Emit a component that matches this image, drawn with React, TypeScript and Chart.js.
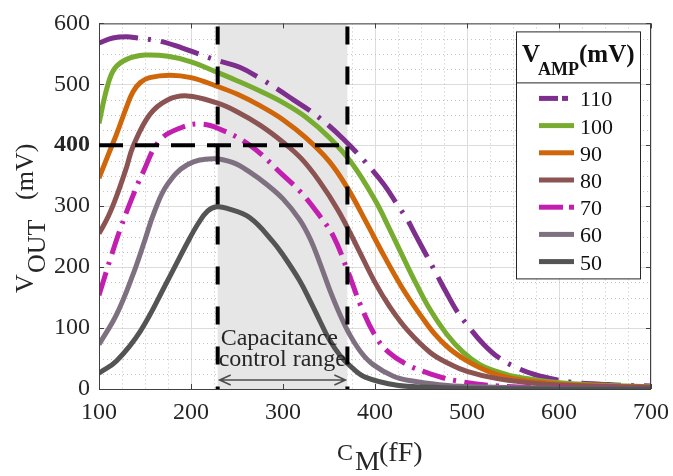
import React, { useEffect, useRef } from "react";
import { Chart, registerables } from "chart.js";
Chart.register(...registerables);

const FONT = "'Liberation Serif', 'Times New Roman', serif";
const INK = "#262626";

// ---- data ----
const seriesLabels = ["110", "100", "90", "80", "70", "60", "50"];
const seriesColors = ["#7E2F8E", "#77AC30", "#D0660A", "#8C5353", "#C21EB0", "#7E7080", "#545454"];

const x110 = [100, 115, 130, 142, 166, 190, 210, 229, 253, 275, 293, 311, 329, 350, 365, 380, 395, 410, 424, 435, 445, 455, 467, 478, 489, 503, 517, 534, 554, 575, 598, 621, 645, 670, 700];
const y110 = [568, 576, 578, 576, 571, 560, 549, 539, 528, 510, 493, 475, 457, 432, 411, 388, 363, 335, 303, 278, 250, 222, 188, 157, 128, 100, 75, 52, 35, 23, 15, 10, 8, 6, 5];

const x100 = [100, 109, 117, 130, 150, 175, 200, 228, 250, 275, 300, 325, 350, 375, 400, 416, 430, 445, 460, 478, 496, 514, 532, 550, 575, 604, 650, 700];
const y100 = [436, 496, 526, 541, 548, 546, 537, 520, 506, 489, 470, 446, 413, 370, 310, 262, 218, 172, 130, 90, 60, 40, 29, 21, 15, 10, 6, 4];

const x90 = [100, 111, 119, 130, 137, 145, 155, 177, 200, 228, 250, 275, 300, 325, 350, 370, 390, 410, 430, 450, 465, 481, 500, 514, 532, 550, 575, 604, 650, 700];
const y90 = [346, 388, 418, 463, 488, 503, 511, 515, 511, 497, 484, 465, 442, 412, 374, 330, 275, 218, 165, 120, 90, 66, 46, 35, 24, 17, 12, 8, 5, 3];

const x80 = [100, 110, 119, 130, 137, 155, 174, 196, 229, 250, 275, 300, 320, 340, 360, 380, 400, 416, 435, 460, 480, 500, 533, 570, 604, 650, 700];
const y80 = [255, 283, 316, 364, 398, 450, 474, 481, 469, 455, 433, 405, 378, 340, 293, 235, 175, 135, 97, 60, 42, 29, 17, 10, 6, 4, 3];

const x70 = [100, 112, 123, 135, 148, 166, 191, 210, 229, 264, 300, 320, 340, 355, 370, 385, 400, 415, 435, 460, 490, 533, 600, 700];
const y70 = [154, 212, 262, 310, 356, 408, 430, 435, 428, 400, 351, 322, 284, 250, 195, 135, 88, 60, 40, 25, 13, 5, 2, 1];

const x60 = [100, 119, 137, 150, 160, 174, 196, 224, 245, 264, 282, 300, 318, 330, 340, 351, 362, 373, 385, 398, 420, 441, 470, 500, 600, 700];
const y60 = [73, 122, 188, 245, 290, 335, 368, 378, 372, 356, 336, 312, 278, 245, 207, 162, 122, 88, 60, 40, 21, 13, 7, 4, 1, 0];

const x50 = [100, 119, 145, 174, 196, 208, 218, 228, 240, 264, 289, 300, 318, 330, 340, 350, 362, 375, 390, 424, 460, 500, 600, 700];
const y50 = [26, 46, 95, 176, 240, 272, 292, 299, 296, 281, 242, 220, 178, 143, 112, 82, 55, 35, 19, 6, 3, 1, 0, 0];

const seriesX = [x110, x100, x90, x80, x70, x60, x50];
const seriesY = [y110, y100, y90, y80, y70, y60, y50];
const seriesStyle = ["dashdot", "solid", "solid", "solid", "dashdot2", "solid", "solid"];

const xTicks = [100, 200, 300, 400, 500, 600, 700];
const yTicks = [0, 100, 200, 300, 400, 500, 600];
const minorStep = 25;

const rangeStart = 229; // fF
const rangeEnd = 370; // fF
const thresholdV = 400; // mV
const legendTitle = { main: "V", sub: "AMP", unit: "(mV)" };
const annotationLines = ["Capacitance", "control range"];

function dashFor(style: string): number[] {
  if (style === "dashdot") return [40, 10, 3, 10];
  if (style === "dashdot2") return [24, 8, 3, 8];
  return [];
}

const decorPlugin = {
  id: "decor",
  beforeDatasetsDraw(chart: any) {
    const { ctx, chartArea: a, scales } = chart;
    const xs = scales.x, ys = scales.y;
    ctx.save();
    ctx.strokeStyle = "#c4c4c4";
    ctx.lineWidth = 1;
    ctx.setLineDash([1, 3]);
    for (let v = xTicks[0]; v <= xTicks[xTicks.length - 1]; v += minorStep) {
      if (xTicks.includes(v)) continue;
      const px = Math.round(xs.getPixelForValue(v)) + 0.5;
      ctx.beginPath(); ctx.moveTo(px, a.top); ctx.lineTo(px, a.bottom); ctx.stroke();
    }
    for (let v = yTicks[0]; v <= yTicks[yTicks.length - 1]; v += minorStep) {
      if (yTicks.includes(v)) continue;
      const py = Math.round(ys.getPixelForValue(v)) + 0.5;
      ctx.beginPath(); ctx.moveTo(a.left, py); ctx.lineTo(a.right, py); ctx.stroke();
    }
    ctx.setLineDash([]);
    const x0 = xs.getPixelForValue(rangeStart);
    const x1 = xs.getPixelForValue(rangeEnd);
    ctx.fillStyle = "#e6e6e6";
    ctx.fillRect(x0, a.top, x1 - x0, a.bottom - a.top);
    ctx.restore();
  },
  afterDatasetsDraw(chart: any) {
    const { ctx, chartArea: a, scales } = chart;
    const xs = scales.x, ys = scales.y;
    const x0 = xs.getPixelForValue(rangeStart);
    const x1 = xs.getPixelForValue(rangeEnd);
    const yT = ys.getPixelForValue(thresholdV);
    ctx.save();
    ctx.strokeStyle = "#404040";
    ctx.lineWidth = 1;
    ctx.strokeRect(a.left + 0.5, a.top + 0.5, a.right - a.left - 1, a.bottom - a.top);
    ctx.beginPath();
    for (const v of xTicks) {
      const px = Math.round(xs.getPixelForValue(v)) + 0.5;
      ctx.moveTo(px, a.bottom); ctx.lineTo(px, a.bottom - 5);
      ctx.moveTo(px, a.top); ctx.lineTo(px, a.top + 5);
    }
    for (const v of yTicks) {
      const py = Math.round(ys.getPixelForValue(v)) + 0.5;
      ctx.moveTo(a.left, py); ctx.lineTo(a.left + 5, py);
      ctx.moveTo(a.right, py); ctx.lineTo(a.right - 5, py);
    }
    ctx.stroke();

    ctx.strokeStyle = "#000";
    ctx.lineWidth = 4;
    ctx.lineCap = "butt";
    ctx.setLineDash([18, 22]);
    ctx.beginPath(); ctx.moveTo(x0, a.top + 3); ctx.lineTo(x0, a.bottom); ctx.stroke();
    ctx.beginPath(); ctx.moveTo(x1, a.top + 3); ctx.lineTo(x1, a.bottom); ctx.stroke();
    ctx.setLineDash([24, 12]);
    ctx.beginPath(); ctx.moveTo(a.left, yT); ctx.lineTo(x1, yT); ctx.stroke();
    ctx.setLineDash([]);

    const ay = a.bottom - 9;
    ctx.strokeStyle = "#4d4d4d";
    ctx.lineWidth = 1.6;
    ctx.beginPath();
    ctx.moveTo(x0 + 2, ay); ctx.lineTo(x1 - 2, ay);
    ctx.moveTo(x0 + 13, ay - 5); ctx.lineTo(x0 + 2, ay); ctx.lineTo(x0 + 13, ay + 5);
    ctx.moveTo(x1 - 13, ay - 5); ctx.lineTo(x1 - 2, ay); ctx.lineTo(x1 - 13, ay + 5);
    ctx.stroke();

    ctx.fillStyle = INK;
    ctx.font = `24px ${FONT}`;
    ctx.textBaseline = "alphabetic";
    ctx.textAlign = "left";
    ctx.fillText(annotationLines[0], x0 + 3, a.bottom - 44);
    ctx.fillText(annotationLines[1], x0 + 1, a.bottom - 23);

    const lw = 124, lh = 247;
    const lx = a.right - 11 - lw, ly = a.top + 8;
    ctx.fillStyle = "#fff";
    ctx.fillRect(lx, ly, lw, lh);
    ctx.strokeStyle = INK;
    ctx.lineWidth = 1;
    ctx.strokeRect(lx + 0.5, ly + 0.5, lw, lh);
    ctx.beginPath(); ctx.moveTo(lx, ly + 51.5); ctx.lineTo(lx + lw, ly + 51.5); ctx.stroke();
    ctx.fillStyle = "#111";
    ctx.font = `bold 25px ${FONT}`;
    ctx.fillText(legendTitle.main, lx + 6, ly + 31);
    const vW = ctx.measureText(legendTitle.main).width;
    ctx.font = `bold 18px ${FONT}`;
    ctx.fillText(legendTitle.sub, lx + 6 + vW - 2, ly + 44);
    const sW = ctx.measureText(legendTitle.sub).width;
    ctx.font = `bold 25px ${FONT}`;
    ctx.fillText(legendTitle.unit, lx + 6 + vW - 2 + sW, ly + 31);

    ctx.font = `22px ${FONT}`;
    const ds = chart.data.datasets;
    for (let i = 0; i < ds.length; i++) {
      const cy = ly + 67 + i * 27.2;
      const sx = lx + 23;
      ctx.fillStyle = ds[i].borderColor;
      const st = seriesStyle[i];
      if (st === "dashdot") {
        ctx.fillRect(sx, cy - 2.5, 19, 5);
        ctx.fillRect(sx + 23, cy - 2.5, 6, 5);
      } else if (st === "dashdot2") {
        ctx.fillRect(sx, cy - 2.5, 24, 5);
        ctx.fillRect(sx + 30, cy - 2.5, 5, 5);
      } else {
        ctx.fillRect(sx, cy - 2.5, 35, 5);
      }
      ctx.fillStyle = "#111";
      ctx.fillText(ds[i].label, lx + 64, cy + 8);
    }
    ctx.restore();
  },
  afterDraw(chart: any) {
    const { ctx, chartArea: a } = chart;
    ctx.save();
    ctx.fillStyle = INK;
    ctx.textBaseline = "alphabetic";
    ctx.textAlign = "left";
    ctx.translate(a.left - 66, a.bottom - 96);
    ctx.rotate(-Math.PI / 2);
    ctx.font = `26px ${FONT}`;
    ctx.fillText("V", 0, 0);
    ctx.fillText("OUT", 20, 12);
    ctx.fillText("(mV)", 93, 0);
    ctx.restore();
    ctx.save();
    ctx.fillStyle = INK;
    ctx.textBaseline = "alphabetic";
    ctx.textAlign = "left";
    const bx = a.left + 238;
    ctx.font = `24px ${FONT}`;
    ctx.fillText("C", bx, a.bottom + 71);
    ctx.font = `28px ${FONT}`;
    ctx.fillText("M", bx + 18, a.bottom + 81);
    ctx.fillText("(fF)", bx + 42, a.bottom + 72);
    ctx.restore();
  },
};

export default function App() {
  const ref = useRef<HTMLCanvasElement>(null);
  useEffect(() => {
    const datasets = seriesLabels.map((label, i) => ({
      label,
      data: seriesX[i].map((x, j) => ({ x, y: seriesY[i][j] })),
      borderColor: seriesColors[i],
      backgroundColor: seriesColors[i],
      borderWidth: 5,
      borderDash: dashFor(seriesStyle[i]),
      borderCapStyle: "butt" as const,
      borderJoinStyle: "round" as const,
      pointRadius: 0,
      tension: 0.4,
      fill: false,
      order: seriesLabels.length - i,
    }));
    const tickFont = (c: any) => ({
      family: FONT,
      size: 24,
      weight: c.tick && c.tick.value === thresholdV && c.scale && c.scale.axis === "y" ? "bold" : "normal",
    });
    const chart = new Chart(ref.current!, {
      type: "line",
      data: { datasets },
      options: {
        responsive: false,
        animation: false,
        layout: { padding: { top: 15, right: 22, left: 0, bottom: 0 } },
        plugins: { legend: { display: false }, tooltip: { enabled: false } },
        scales: {
          x: {
            type: "linear",
            min: xTicks[0],
            max: xTicks[xTicks.length - 1],
            afterBuildTicks: (s: any) => { s.ticks = xTicks.map((v) => ({ value: v })); },
            afterFit: (s: any) => { s.height = 87; s.paddingLeft = 0; s.paddingRight = 0; },
            ticks: { font: tickFont as any, color: INK, padding: 9, maxRotation: 0, autoSkip: false },
            grid: { color: "#dcdcdc", lineWidth: 1, drawTicks: false },
            border: { display: false },
          },
          y: {
            type: "linear",
            min: yTicks[0],
            max: yTicks[yTicks.length - 1],
            afterBuildTicks: (s: any) => { s.ticks = yTicks.map((v) => ({ value: v })); },
            afterFit: (s: any) => { s.width = 99; },
            ticks: { font: tickFont as any, color: INK, padding: 9, autoSkip: false },
            grid: { color: "#dcdcdc", lineWidth: 1, drawTicks: false },
            border: { display: false },
          },
        },
      },
      plugins: [decorPlugin],
    } as any);
    return () => chart.destroy();
  }, []);
  return (
    <div style={{ position: "absolute", left: 0, top: 0, width: 673, height: 476, background: "#fff" }}>
      <canvas ref={ref} width={673} height={476} style={{ display: "block" }} />
    </div>
  );
}
